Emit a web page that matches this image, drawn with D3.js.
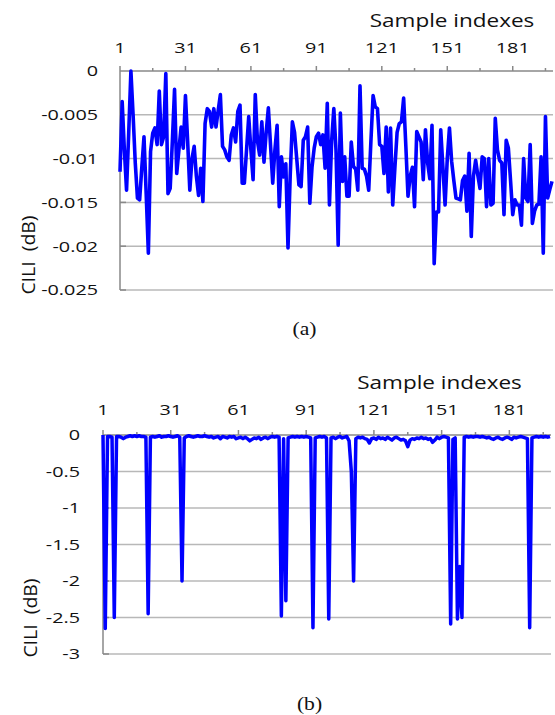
<!doctype html>
<html>
  <head>
    <meta charset="utf-8"/>
    <style>
      body { margin: 0; background: #fff; }
      svg { display: block; }
    </style>
  </head>
  <body>
    <script src="https://cdn.jsdelivr.net/npm/d3@7"></script>
    <script>

      // sample index categories (1..199)
      const samples = d3.range(1, 200);

      const majorTicks = [1, 31, 61, 91, 121, 151, 181];
      const minorTicks = [16, 46, 76, 106, 136, 166, 196];

      const yTicksA = [0, -0.005, -0.01, -0.015, -0.02, -0.025];
      const yLabelsA = ['0', '-0.005', '-0.01', '-0.015', '-0.02', '-0.025'];
      const yTicksB = [0, -0.5, -1, -1.5, -2, -2.5, -3];
      const yLabelsB = ['0', '-0.5', '-1', '-1.5', '-2', '-2.5', '-3'];

      // CILI (dB), panel (a)
      const ciliA = [
        -0.0115, -0.0035, -0.009, -0.0136, -0.007, 0, -0.005, -0.0105, -0.0145, -0.0147,
        -0.011, -0.0075, -0.014, -0.0208, -0.0092, -0.0071, -0.0065, -0.0084, -0.0023, -0.0084,
        -0.0075, -0.0003, -0.014, -0.0134, -0.008, -0.0021, -0.0117, -0.009, -0.0064, -0.0088,
        -0.0028, -0.008, -0.0136, -0.010, -0.0086, -0.012, -0.0142, -0.0111, -0.0149, -0.006,
        -0.0043, -0.0046, -0.0064, -0.0043, -0.0064, -0.0045, -0.0027, -0.0086, -0.009, -0.0098,
        -0.0102, -0.0073, -0.0065, -0.0081, -0.0046, -0.0039, -0.0128, -0.0128, -0.009, -0.0052,
        -0.009, -0.0124, -0.0027, -0.008, -0.0096, -0.0058, -0.0104, -0.007, -0.0042, -0.0085,
        -0.0128, -0.009, -0.0062, -0.0155, -0.0098, -0.0121, -0.0106, -0.0202, -0.012, -0.0058,
        -0.007, -0.010, -0.013, -0.0132, -0.0079, -0.0075, -0.0064, -0.0151, -0.011, -0.0088,
        -0.0075, -0.0071, -0.0084, -0.0073, -0.0111, -0.0037, -0.0153, -0.008, -0.0043, -0.009,
        -0.0199, -0.0048, -0.0126, -0.0098, -0.0143, -0.0143, -0.0081, -0.0109, -0.0112, -0.0136,
        -0.0017, -0.0111, -0.0112, -0.012, -0.0136, -0.008, -0.0028, -0.0041, -0.0043, -0.0084,
        -0.0086, -0.0117, -0.0064, -0.0138, -0.0065, -0.0153, -0.011, -0.007, -0.006, -0.0058,
        -0.0031, -0.0085, -0.0143, -0.012, -0.011, -0.0155, -0.0069, -0.0075, -0.0081, -0.0124,
        -0.0067, -0.0105, -0.0123, -0.0062, -0.022, -0.0161, -0.0161, -0.0067, -0.011, -0.0153,
        -0.010, -0.0065, -0.0103, -0.0125, -0.0145, -0.0146, -0.0147, -0.0125, -0.012, -0.016,
        -0.0094, -0.0189, -0.012, -0.0102, -0.0119, -0.0134, -0.0098, -0.010, -0.0155, -0.010,
        -0.0153, -0.0151, -0.0054, -0.009, -0.0102, -0.0105, -0.0164, -0.0079, -0.0088, -0.0125,
        -0.0164, -0.0147, -0.0153, -0.0153, -0.0176, -0.010, -0.0145, -0.0149, -0.0084, -0.0174,
        -0.016, -0.0153, -0.0152, -0.0098, -0.0208, -0.0052, -0.0145, -0.0135, -0.0126
      ];

      // CILI (dB), panel (b)
      const ciliB = [
        0, -2.65, -0.02, -0.02, -0.03, -2.5, -0.02, -0.02, -0.03, -0.05,
        -0.03, -0.02, -0.01, -0.02, -0.01, -0.02, -0.01, -0.02, -0.02, -0.03,
        -2.45, -0.03, -0.02, -0.03, -0.02, -0.01, -0.03, -0.02, -0.02, -0.01,
        -0.02, -0.03, -0.02, -0.01, -0.03, -2.0, -0.04, -0.02, -0.01, -0.02,
        -0.03, -0.02, -0.01, -0.02, -0.02, -0.01, -0.02, -0.03, -0.02, -0.04,
        -0.03, -0.02, -0.05, -0.02, -0.03, -0.04, -0.02, -0.03, -0.02, -0.05,
        -0.04, -0.03, -0.05, -0.03, -0.05, -0.08, -0.06, -0.04, -0.05, -0.03,
        -0.06, -0.04, -0.03, -0.05, -0.03, -0.02, -0.03, -0.02, -0.03, -2.48,
        -0.05, -2.27, -0.04, -0.03, -0.02, -0.03, -0.02, -0.03, -0.02, -0.03,
        -0.02, -0.03, -0.04, -2.64, -0.04, -0.03, -0.02, -0.03, -0.02, -0.04,
        -2.52, -0.04, -0.03, -0.05, -0.03, -0.02, -0.04, -0.03, -0.02, -0.08,
        -0.5, -2.0, -0.05, -0.03, -0.04, -0.03, -0.05, -0.06, -0.11, -0.05,
        -0.04, -0.06, -0.03, -0.05, -0.04, -0.06, -0.03, -0.05, -0.07, -0.04,
        -0.03, -0.05, -0.07, -0.06, -0.08, -0.16, -0.07, -0.05, -0.06, -0.04,
        -0.05, -0.03, -0.05, -0.04, -0.06, -0.05, -0.1, -0.07, -0.03, -0.05,
        -0.03, -0.02, -0.03, -0.04, -2.59, -0.06, -0.04, -2.52, -1.8, -2.5,
        -0.03, -0.02, -0.03, -0.02, -0.03, -0.02, -0.02, -0.03, -0.02, -0.03,
        -0.04, -0.03, -0.05, -0.06, -0.04, -0.03, -0.05, -0.06, -0.04, -0.03,
        -0.04, -0.06, -0.03, -0.04, -0.03, -0.02, -0.03, -0.04, -0.05, -2.64,
        -0.04, -0.03, -0.02, -0.03, -0.02, -0.03, -0.02, -0.03, -0.02
      ];

      const svg = d3.select('body').append('svg')
            .attr('width', 555)
            .attr('height', 715);

      const textColor = '#111';
      const sansFont = '"Open Sans", "DejaVu Sans", sans-serif';

      // text drawn a bit wider than normal, like the stretched original
      const addText = (g, str, x, y, opts) => {
        const sx = opts.sx || 1;
        const rot = opts.rotate ? ' rotate(' + opts.rotate + ')' : '';
        return g.append('text')
          .attr('transform', 'translate(' + x + ',' + y + ')' + rot + ' scale(' + sx + ',1)')
          .attr('text-anchor', opts.anchor || 'middle')
          .attr('dy', opts.dy || 0)
          .style('font-family', opts.font || sansFont)
          .style('font-size', opts.size + 'px')
          .attr('fill', textColor)
          .text(str);
      };

      const drawPanel = function(cfg) {
        const g = svg.append('g');

        const x = d3.scaleLinear()
              .domain([1, samples[samples.length - 1]])
              .range([cfg.left, cfg.right]);
        const y = d3.scaleLinear()
              .domain(cfg.yDomain)
              .range([cfg.bottom, cfg.top]);

        // horizontal gridlines
        g.append('g')
          .selectAll('line')
          .data(cfg.yTicks.filter(d => d !== 0))
          .join('line')
          .attr('x1', cfg.left)
          .attr('x2', cfg.right + 1)
          .attr('y1', d => y(d))
          .attr('y2', d => y(d))
          .attr('stroke', '#b8b8b8')
          .attr('stroke-width', 1.5);

        // left axis with short inner ticks
        g.append('line')
          .attr('x1', cfg.left).attr('x2', cfg.left)
          .attr('y1', y(cfg.yDomain[1])).attr('y2', y(cfg.yDomain[0]))
          .attr('stroke', '#888')
          .attr('stroke-width', 1.5);
        g.append('g')
          .selectAll('line')
          .data(cfg.yTicks.filter(d => d !== 0))
          .join('line')
          .attr('x1', cfg.left)
          .attr('x2', cfg.left + 6)
          .attr('y1', d => y(d))
          .attr('y2', d => y(d))
          .attr('stroke', '#888')
          .attr('stroke-width', 1.5);

        // top axis (value 0) with outward ticks
        g.append('line')
          .attr('x1', cfg.left).attr('x2', cfg.right + 1)
          .attr('y1', y(0)).attr('y2', y(0))
          .attr('stroke', '#888')
          .attr('stroke-width', 1.5);
        g.append('g')
          .selectAll('line')
          .data(majorTicks)
          .join('line')
          .attr('x1', d => x(d)).attr('x2', d => x(d))
          .attr('y1', y(0) - 5).attr('y2', y(0))
          .attr('stroke', '#888')
          .attr('stroke-width', 1.5);
        g.append('g')
          .selectAll('line')
          .data(minorTicks)
          .join('line')
          .attr('x1', d => x(d)).attr('x2', d => x(d))
          .attr('y1', y(0) - 3).attr('y2', y(0))
          .attr('stroke', '#888')
          .attr('stroke-width', 1.5);

        // tick labels
        majorTicks.forEach(d => {
          addText(g, String(d), x(d), cfg.xLabelY, { size: 15, sx: 1.32 });
        });
        cfg.yTicks.forEach((d, i) => {
          addText(g, cfg.yLabels[i], cfg.yLabelX, y(d), { size: 15, sx: 1.32, anchor: 'end', dy: '0.36em' });
        });

        // titles
        addText(g, 'Sample indexes', cfg.titleX, cfg.titleY, { size: 18, sx: 1.25 });
        addText(g, 'CILI\u00a0\u00a0(dB)', cfg.yTitleX, cfg.yTitleY,
                { size: 18, sx: 1.08, rotate: -90, dy: '0.35em' });
        addText(g, cfg.caption, cfg.captionX, cfg.captionY,
                { size: 18, sx: 1.2, font: '"Liberation Serif", "Times New Roman", serif' });

        // the series
        const line = d3.line()
              .x((d, i) => x(samples[i]))
              .y(d => y(d));

        g.append('path')
          .datum(cfg.values)
          .attr('d', line)
          .attr('fill', 'none')
          .attr('stroke', '#0000ff')
          .attr('stroke-width', cfg.lineWidth)
          .attr('stroke-linejoin', 'round');
      };

      drawPanel({
        values: ciliA,
        yDomain: [-0.025, 0],
        yTicks: yTicksA,
        yLabels: yLabelsA,
        left: 120, right: 552, top: 71, bottom: 290,
        xLabelY: 52.5, yLabelX: 98,
        titleX: 452, titleY: 27,
        yTitleX: 28.5, yTitleY: 255,
        caption: '(a)', captionX: 304.5, captionY: 335,
        lineWidth: 3.6
      });

      drawPanel({
        values: ciliB,
        yDomain: [-3, 0],
        yTicks: yTicksB,
        yLabels: yLabelsB,
        left: 103, right: 550, top: 435, bottom: 654,
        xLabelY: 415, yLabelX: 80,
        titleX: 439.5, titleY: 388.5,
        yTitleX: 31, yTitleY: 618,
        caption: '(b)', captionX: 309.5, captionY: 710,
        lineWidth: 3.5
      });

    </script>
  </body>
</html>
